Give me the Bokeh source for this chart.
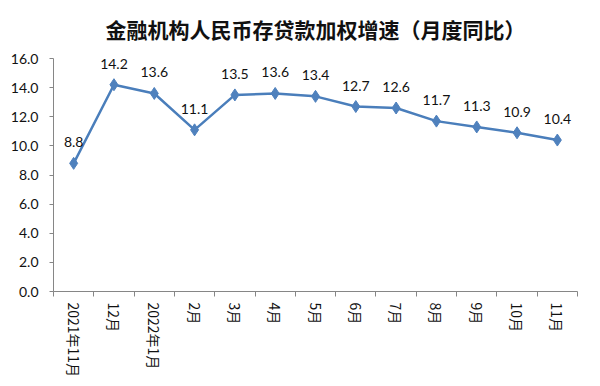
import math
from bokeh.plotting import figure
from bokeh.models import ColumnDataSource, Range1d, FixedTicker, NumeralTickFormatter, Title
from bokeh.core.properties import value
from bokeh.embed import file_html
from bokeh.resources import INLINE

# ---- data ----
months = ["2021年11月", "12月", "2022年1月", "2月", "3月", "4月", "5月",
          "6月", "7月", "8月", "9月", "10月", "11月"]
rates = [8.8, 14.2, 13.6, 11.1, 13.5, 13.6, 13.4, 12.7, 12.6, 11.7, 11.3, 10.9, 10.4]
y_ticks = [0, 2, 4, 6, 8, 10, 12, 14, 16]
title_text = "金融机构人民币存贷款加权增速（月度同比）"

xs = list(range(1, len(months) + 1))
src = ColumnDataSource(dict(x=xs, y=rates, lab=[f"{v:.1f}" for v in rates]))

p = figure(width=600, height=386, output_backend="svg", toolbar_location=None,
           x_range=Range1d(0.5, len(months) + 0.5), y_range=Range1d(0, 16),
           min_border_left=53, min_border_right=23, min_border_top=58, min_border_bottom=95)
p.title = Title(text=title_text, align="center", offset=-27, standoff=26,
                vertical_align="top",
                text_font="Noto Sans CJK SC", text_font_size="21px",
                text_font_style="bold", text_color="#111111")

color = "#4A7EBB"
p.line("x", "y", source=src, line_color=color, line_width=2.5)
p.scatter("x", "y", source=src, marker="diamond", size=12, fill_color="#4F81BD",
          line_color="#4F81BD")
p.text("x", "y", text="lab", source=src, text_align="center", text_baseline="middle",
       y_offset=-21, text_font=value("Lato"), text_font_size="14px", text_color="#111111")

p.xgrid.visible = False
p.ygrid.visible = False
p.outline_line_color = None

# y axis
p.yaxis.ticker = FixedTicker(ticks=y_ticks)
p.yaxis.formatter = NumeralTickFormatter(format="0.0")
p.yaxis.major_tick_out = 4
p.yaxis.major_tick_in = 0
p.yaxis.minor_tick_out = 0
p.yaxis.minor_tick_in = 0
p.yaxis.axis_line_color = "#868686"
p.yaxis.major_tick_line_color = "#868686"
p.yaxis.major_label_text_font = "Lato"
p.yaxis.major_label_text_font_size = "14px"
p.yaxis.major_label_text_color = "#111111"
p.yaxis.major_label_standoff = 11

# x axis: labels at centers, tick marks at boundaries
p.xaxis.ticker = FixedTicker(ticks=xs, minor_ticks=[x - 0.5 for x in xs] + [len(xs) + 0.5])
p.xaxis.major_label_overrides = {x: m for x, m in zip(xs, months)}
p.xaxis.major_tick_out = 0
p.xaxis.major_tick_in = 0
p.xaxis.minor_tick_out = 5
p.xaxis.minor_tick_in = 0
p.xaxis.axis_line_color = "#868686"
p.xaxis.minor_tick_line_color = "#868686"
p.xaxis.major_label_orientation = -math.pi / 2
p.xaxis.major_label_text_font = "Noto Sans CJK SC"
p.xaxis.major_label_text_font_size = "14px"
p.xaxis.major_label_text_color = "#111111"
p.xaxis.major_label_standoff = 6

open("out.html", "w").write(file_html(p, INLINE))
